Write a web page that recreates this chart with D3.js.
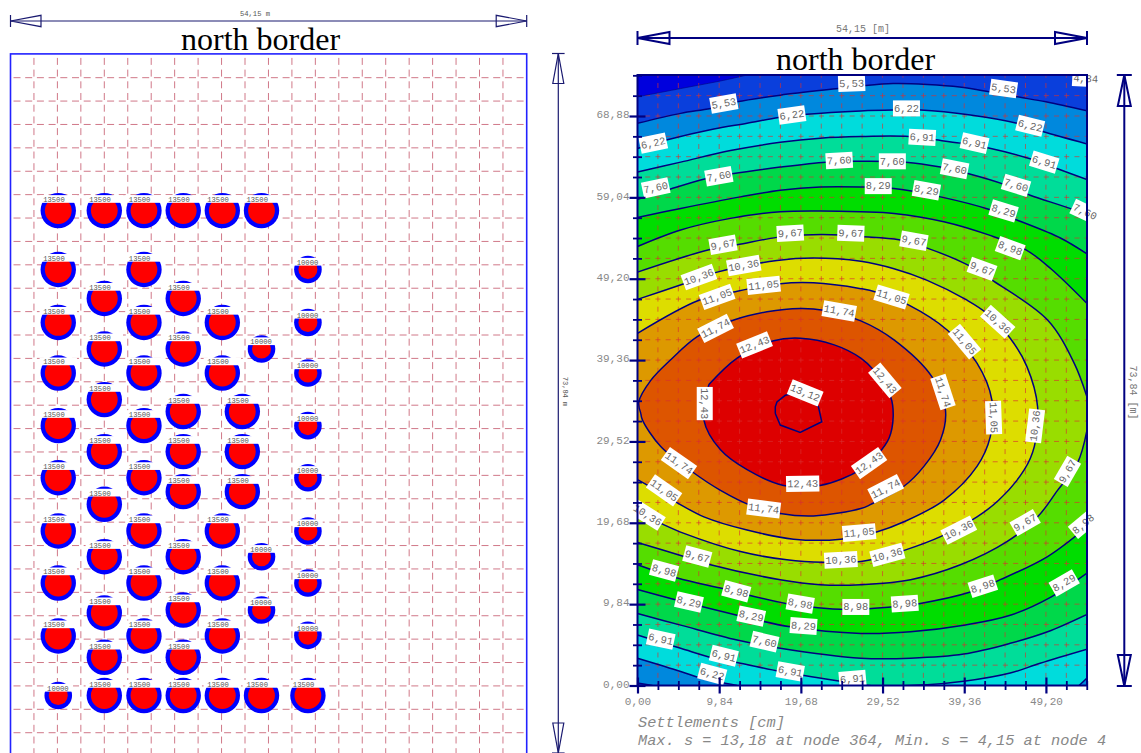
<!DOCTYPE html>
<html>
<head>
<meta charset="utf-8">
<script src="https://cdnjs.cloudflare.com/ajax/libs/d3/7.8.5/d3.min.js"></script>
<style>
  html, body { margin: 0; background: #fff; }
  svg { display: block; }
</style>
</head>
<body>
<div id="chart"></div>
<script>
// plate size in metres
const plateWidth = 54.15, plateHeight = 73.84;

// grid / tick positions [m]
const gridX = [0,2.46,4.92,7.38,9.84,12.3,14.76,17.22,19.68,22.14,24.6,27.06,29.52,31.98,34.44,36.9,39.36,41.82,44.28,46.74,49.2,51.66,54.12];
const gridY = [0,2.46,4.92,7.38,9.84,12.3,14.76,17.22,19.68,22.14,24.6,27.06,29.52,31.98,34.44,36.9,39.36,41.82,44.28,46.74,49.2,51.66,54.12,56.58,59.04,61.5,63.96,66.42,68.88,71.34,73.8];

// piles [x, y] in metres, by load
const piles13500 = [
  [5.01,57.36],[9.84,57.36],[14.0,57.36],[18.12,57.36],[22.22,57.36],[26.33,57.36],
  [5.01,51.17],[14.0,51.17],[9.84,48.12],[18.12,48.12],
  [5.01,45.6],[14.0,45.6],[22.22,45.6],[9.84,42.81],[18.12,42.81],
  [5.01,40.28],[14.0,40.28],[22.22,40.28],[9.84,37.49],[18.12,36.23],[24.32,36.23],
  [5.01,34.75],[14.0,34.75],[9.84,32.02],[18.12,32.02],[24.32,32.02],
  [5.01,29.27],[14.0,29.27],[18.12,27.81],[24.32,27.81],[9.84,26.48],
  [5.01,23.67],[14.0,23.67],[22.22,23.67],[9.84,20.97],[18.12,20.97],
  [5.01,18.2],[14.0,18.2],[22.22,18.2],[9.84,15.05],[18.12,15.36],
  [5.01,12.63],[14.0,12.63],[22.22,12.63],[9.84,10.39],[18.12,10.39],
  [9.84,6.37],[14.0,6.37],[18.12,6.37],[22.22,6.37],[26.33,6.37],[31.2,6.37]
];
const piles10000 = [
  [31.2,51.17],[31.2,45.6],[31.2,40.28],[31.2,34.75],[31.2,29.27],[31.2,23.67],[31.2,18.2],[31.2,12.7],
  [26.33,42.81],[26.33,20.97],[26.33,15.36],[5.01,6.37]
];

// settlement levels [cm] and the colour of the band above each one
const levelValues = [4.84,5.53,6.22,6.91,7.60,8.29,8.98,9.67,10.36,11.05,11.74,12.43,13.12];
const bandBelow = '#0000dd';
const bandColors = ['#0a3fdc','#0088dd','#00dcdc','#00dd99','#00d84a','#00dd00','#55dd00','#99dd00','#dddd00','#dd9900','#dd5500','#dd0000','#dd0000'];

// contour branches, left to right, [x, y] in metres
const c484 = [
  [[0,71.2],[5.2,72.2],[10.4,73.2],[13.2,73.84]],
  [[0,0]],
  [[54.15,0]],
  [[54.15,73.0],[52.4,73.84]]
];
const c553 = [
  [[0,68.0],[5.2,69.2],[8.8,69.8],[12.0,70.6],[17.2,71.4],[24.2,72.2],[26.9,72.5],[30.8,72.8],[34.9,72.7],[38.8,72.4],[42.4,71.8],[45.7,71.2],[49.2,70.6],[54.15,69.5]],
  [[0,0.3],[1.8,0]],
  [[54.15,0]]
];
const c622 = [
  [[0,64.95],[3.6,66.0],[9.2,67.3],[13.2,68.0],[17.0,68.7],[20.4,69.1],[26.9,69.5],[30.9,69.6],[34.1,69.6],[40.1,69.0],[45.7,68.0],[48.8,67.0],[54.15,65.5]],
  [[0,3.3],[5.2,1.7],[7.6,0.9],[12.0,0]],
  [[53.2,0],[54.15,0.9]]
];
const c691 = [
  [[0,62.1],[5.2,63.3],[11.2,64.7],[17.2,65.7],[22.0,66.2],[26.9,66.4],[32.7,66.4],[35.9,66.0],[38.9,65.6],[42.3,65.0],[47.3,63.7],[50.6,62.5],[54.15,61.2]],
  [[0,6.1],[5.2,4.5],[9.2,3.3],[12.4,2.7],[17.2,1.7],[24.5,0.5],[26.9,0.06],[34.9,0.1],[39.3,0.5],[44.9,1.5],[48.5,2.7],[54.15,4.4]]
];
const c760 = [
  [[0,58.8],[3.8,60.0],[8.2,61.3],[11.4,61.9],[17.2,62.7],[22.7,63.3],[25.9,63.4],[32.3,63.3],[36.5,62.7],[39.9,61.9],[43.9,60.7],[47.3,59.3],[52.6,57.5],[54.15,56.7]],
  [[0,8.7],[5.2,7.3],[12.0,5.5],[17.2,4.5],[26.9,3.3],[32.9,3.3],[39.3,3.8],[44.9,5.1],[49.4,6.5],[54.15,8.6]]
];
const c829 = [
  [[0,56.6],[5.2,57.7],[12.4,59.1],[17.2,59.9],[22.0,60.3],[26.9,60.3],[30.9,60.1],[36.5,59.1],[42.3,57.6],[45.7,56.3],[51.0,54.1],[54.15,52.2]],
  [[0,11.6],[4.8,10.3],[12.0,8.5],[18.4,7.1],[26.9,6.3],[32.9,6.5],[39.3,7.3],[44.9,8.5],[49.8,10.7],[54.15,13.6]]
];
const c898 = [
  [[0,53.1],[5.2,55.1],[11.2,56.5],[17.2,57.3],[22.0,57.4],[26.9,57.3],[30.9,57.1],[36.9,56.1],[42.3,54.5],[46.8,52.7],[49.8,50.4],[54.15,46.2]],
  [[0,14.6],[4.8,13.0],[10.4,11.7],[18.0,9.9],[25.3,9.2],[30.5,9.5],[33.9,9.9],[40.1,11.3],[43.7,12.8],[49.4,15.6],[54.15,19.2]]
];
const c967 = [
  [[0,50.0],[8.6,52.7],[12.0,53.3],[16.8,54.2],[20.0,54.5],[24.5,54.5],[26.9,54.3],[31.5,53.9],[34.9,52.9],[39.7,50.9],[42.9,48.9],[49.4,44.2],[52.6,39.0],[54.15,34.9]],
  [[0,17.3],[5.6,15.6],[8.8,14.6],[17.2,12.8],[22.0,12.2],[26.9,12.2],[32.9,12.8],[38.9,14.6],[44.5,17.4],[48.2,20.4],[50.6,23.6],[53.0,26.9],[54.15,30.9]]
];
const c1036 = [
  [[0,46.7],[5.6,48.6],[9.6,50.0],[16.8,51.4],[21.2,51.7],[26.9,51.3],[30.9,50.4],[34.9,49.0],[39.7,46.6],[42.1,45.0],[44.9,42.0],[46.9,38.6],[48.2,33.7],[47.8,28.9],[46.6,26.1],[43.5,22.4],[40.9,20.4],[36.5,18.0],[32.3,16.4],[28.1,15.2],[26.9,15.0],[22.4,14.9],[18.0,15.2],[12.4,16.2],[5.6,18.4],[2.4,19.8],[0,20.9]]
];
const c1105 = [
  [[0,42.6],[7.4,46.6],[11.6,47.6],[17.2,48.6],[21.2,48.7],[26.9,48.0],[28.7,47.6],[32.7,46.0],[37.3,43.0],[40.9,39.0],[42.7,34.5],[42.5,30.1],[40.9,26.5],[36.9,22.4],[32.1,19.8],[28.9,18.6],[26.9,18.2],[24.5,17.7],[18.8,17.7],[13.2,18.8],[8.0,20.4],[4.8,22.1],[1.6,24.0],[0,24.9]]
];
const c1174 = [
  [[0.4,32.9],[0.16,34.3],[1.6,36.9],[4.0,39.4],[7.2,42.2],[11.6,44.2],[15.6,45.2],[19.6,45.6],[22.4,45.4],[26.9,44.1],[30.9,41.8],[35.5,37.3],[37.1,33.3],[36.5,29.7],[34.5,26.5],[32.1,24.1],[28.1,21.9],[26.9,21.4],[21.2,20.5],[17.2,20.8],[13.6,21.8],[10.0,23.6],[6.8,25.7],[2.8,28.9],[0.6,32.1],[0.4,32.9]]
];
const c1243 = [
  [[8.6,36.4],[12.0,39.6],[16.4,41.7],[19.6,42.0],[23.7,41.2],[26.9,39.6],[28.5,38.1],[30.5,34.9],[30.8,32.5],[30.3,29.9],[28.9,27.9],[26.9,26.1],[22.0,24.2],[17.6,24.2],[13.2,26.1],[10.0,28.5],[8.0,32.1],[8.6,36.4]]
];
const c1312 = [
  [[16.6,32.9],[16.6,33.7],[16.8,34.3],[17.8,35.1],[19.8,35.5],[21.8,33.7],[22.2,31.9],[19.6,30.6],[17.2,31.5],[16.6,32.9]]
];
const contours = [c484,c553,c622,c691,c760,c829,c898,c967,c1036,c1105,c1174,c1243,c1312];

// contour labels: text, x, y [m], angle [deg]
const contourLabels = [
  ['4,84',54.0,73.4,3],
  ['5,53',10.4,70.4,-10],['5,53',25.8,72.8,-2],['5,53',44.1,72.2,8],
  ['6,22',1.9,65.6,-12],['6,22',18.6,69.0,-8],['6,22',32.4,69.8,0],['6,22',47.3,67.7,14],['6,22',9.0,1.4,15],
  ['6,91',34.3,66.3,3],['6,91',40.6,65.6,13],['6,91',49.0,63.3,17],['6,91',2.8,5.6,12],['6,91',10.4,3.6,14],['6,91',18.4,1.7,10],['6,91',25.9,0.8,-5],
  ['7,60',2.2,60.2,-12],['7,60',9.8,61.6,-10],['7,60',24.3,63.5,-3],['7,60',30.7,63.4,0],['7,60',38.2,62.5,11],['7,60',45.6,60.5,17],['7,60',53.9,57.3,25],['7,60',15.3,5.3,13],
  ['8,29',29.0,60.4,0],['8,29',34.8,59.9,10],['8,29',44.1,57.4,17],['8,29',6.2,10.1,13],['8,29',13.7,8.4,12],['8,29',20.0,7.2,4],['8,29',51.4,12.4,-30],
  ['8,98',44.9,52.9,20],['8,98',3.2,13.9,15],['8,98',11.9,11.4,15],['8,98',19.6,9.9,10],['8,98',26.3,9.5,0],['8,98',32.2,9.9,-4],['8,98',41.6,12.0,-18],['8,98',53.7,19.5,-40],
  ['9,67',10.3,53.3,-10],['9,67',18.4,54.7,-3],['9,67',25.7,54.7,2],['9,67',33.3,53.8,10],['9,67',41.5,50.4,20],['9,67',7.2,15.6,15],['9,67',46.7,19.7,-30],['9,67',51.8,25.9,-60],
  ['10,36',7.4,49.4,-20],['10,36',12.8,50.8,-10],['10,36',43.4,44.0,42],['10,36',47.9,31.4,-83],['10,36',38.7,18.8,-27],['10,36',30.1,15.8,-15],['10,36',24.5,15.2,-3],['10,36',1.2,20.6,32],
  ['11,05',9.6,47.0,-20],['11,05',15.2,48.4,-6],['11,05',30.6,47.0,17],['11,05',39.4,41.6,50],['11,05',42.9,32.4,88],['11,05',26.7,18.5,-5],['11,05',3.2,23.6,35],
  ['11,74',9.4,43.2,-27],['11,74',24.3,45.3,10],['11,74',36.8,35.5,72],['11,74',29.9,23.8,-27],['11,74',15.2,21.4,7],['11,74',5.0,26.9,35],
  ['12,43',14.1,41.2,-22],['12,43',8.1,34.1,90],['12,43',29.8,36.9,50],['12,43',27.9,26.9,-35],['12,43',19.9,24.4,-1],
  ['13,12',20.2,35.4,22]
];

const width = 1141, height = 753;
const mono = '"Liberation Mono", monospace';
const navy = '#000080';

let svg = d3.select('#chart').append('svg')
  .attr('width', width)
  .attr('height', height);

// helper: dimension line with a hollow arrow head and end bar at both ends
function dimArrow(g, x1, y1, x2, y2, head, half, bar, color, sw) {
  let dx = Math.sign(x2 - x1), dy = Math.sign(y2 - y1);
  g.append('line')
    .attr('x1', x1).attr('y1', y1).attr('x2', x2).attr('y2', y2)
    .attr('stroke', color).attr('stroke-width', sw);
  [[x1, y1, dx, dy], [x2, y2, -dx, -dy]].forEach(function (e) {
    let x = e[0], y = e[1], ux = e[2], uy = e[3];
    g.append('path')
      .attr('d', 'M' + x + ',' + y +
        'L' + (x + ux * head - uy * half) + ',' + (y + uy * head - ux * half) +
        'L' + (x + ux * head + uy * half) + ',' + (y + uy * head + ux * half) + 'Z')
      .attr('fill', 'none').attr('stroke', color).attr('stroke-width', sw);
    g.append('line')
      .attr('x1', x - uy * bar).attr('y1', y - ux * bar)
      .attr('x2', x + uy * bar).attr('y2', y + ux * bar)
      .attr('stroke', color).attr('stroke-width', sw);
  });
}

// ---------- left chart: pile layout ----------
let xL = d3.scaleLinear().domain([0, plateWidth]).range([10.5, 526.7]);
let yL = d3.scaleLinear().domain([0, plateHeight]).range([756.1, 53.9]);

let left = svg.append('g');

left.append('g').selectAll('line').data(gridX.slice(1, -1)).enter().append('line')
  .attr('x1', d => xL(d)).attr('x2', d => xL(d))
  .attr('y1', yL(plateHeight) + 4).attr('y2', height)
  .attr('stroke', '#d07888').attr('stroke-width', 1).attr('stroke-dasharray', '7,4.7');
left.append('g').selectAll('line').data(gridY.slice(1, -1)).enter().append('line')
  .attr('y1', d => yL(d)).attr('y2', d => yL(d))
  .attr('x1', xL(0) + 3).attr('x2', xL(plateWidth) - 1)
  .attr('stroke', '#d07888').attr('stroke-width', 1).attr('stroke-dasharray', '7,4.7');

left.append('rect')
  .attr('x', xL(0)).attr('y', yL(plateHeight))
  .attr('width', xL(plateWidth) - xL(0)).attr('height', yL(0) - yL(plateHeight))
  .attr('fill', 'none').attr('stroke', '#2222ff').attr('stroke-width', 1.6);

function drawPiles(data, load, outer, inner) {
  let g = left.append('g').selectAll('g').data(data).enter().append('g')
    .attr('transform', d => 'translate(' + xL(d[0]) + ',' + yL(d[1]) + ')');
  g.append('circle').attr('r', outer).attr('fill', '#0000ff');
  g.append('circle').attr('r', inner).attr('fill', '#ff0000');
  // white strip behind the load label cuts the top off the circle
  g.append('rect')
    .attr('x', -outer - 1).attr('y', -outer + 2.2)
    .attr('width', 2 * outer + 2).attr('height', 7.7)
    .attr('fill', '#fff');
  g.append('text')
    .attr('x', -outer + 2.6).attr('y', -outer + 9)
    .style('font-family', mono).style('font-size', '7.2px').style('fill', '#555')
    .text(load);
}
drawPiles(piles13500, '13500', 17.7, 13.4);
drawPiles(piles10000, '10000', 13.8, 9.5);

dimArrow(left, xL(0), 21, xL(plateWidth), 21, 30.5, 5.7, 6, '#1a1a70', 1.2);
dimArrow(left, 558.3, 53.5, 558.3, 753, 30, 5.5, 6.3, '#1a1a70', 1.2);

left.append('text').attr('x', 255).attr('y', 16)
  .attr('text-anchor', 'middle')
  .style('font-family', mono).style('font-size', '7.2px').style('fill', '#555')
  .text('54,15 m');
left.append('text')
  .attr('transform', 'translate(563,391.5) rotate(90)')
  .attr('text-anchor', 'middle')
  .style('font-family', mono).style('font-size', '7px').style('fill', '#555')
  .text('73,84 m');
left.append('text').attr('x', 181).attr('y', 50)
  .style('font-family', '"Liberation Serif", serif').style('font-size', '32px').style('fill', '#000')
  .text('north border');

// ---------- right chart: settlement contours ----------
let x = d3.scaleLinear().domain([0, plateWidth]).range([637.5, 1087]);
let y = d3.scaleLinear().domain([0, plateHeight]).range([685.5, 75]);

let defs = svg.append('defs');
defs.append('clipPath').attr('id', 'plot').append('rect')
  .attr('x', x(0)).attr('y', y(plateHeight))
  .attr('width', x(plateWidth) - x(0)).attr('height', y(0) - y(plateHeight));

let plot = svg.append('g').attr('clip-path', 'url(#plot)');

plot.append('rect')
  .attr('x', x(0)).attr('y', y(plateHeight))
  .attr('width', x(plateWidth) - x(0)).attr('height', y(0) - y(plateHeight))
  .attr('fill', bandBelow);

let line = d3.line().x(d => x(d[0])).y(d => y(d[1])).curve(d3.curveCatmullRom.alpha(0.5));
// the innermost contour stays a plain polygon like in the source plot
let straight = d3.line().x(d => x(d[0])).y(d => y(d[1]));

// outline of the region above a level: first branch, then the others backwards
function regionPath(branches) {
  let d = line(branches[0]);
  for (let i = branches.length - 1; i > 0; i--) {
    let b = branches[i].slice().reverse();
    d += b.length > 1 ? 'L' + line(b).slice(1) : 'L' + x(b[0][0]) + ',' + y(b[0][1]);
  }
  return d + 'Z';
}
plot.append('g').selectAll('path').data(contours).enter().append('path')
  .attr('d', d => d === c1312 ? straight(d[0]) + 'Z' : regionPath(d))
  .attr('fill', (d, i) => bandColors[i]);

// red dashed grid, a dash centred on every crossing
plot.append('g').selectAll('line').data(gridX).enter().append('line')
  .attr('x1', d => x(d)).attr('x2', d => x(d))
  .attr('y1', y(0)).attr('y2', y(plateHeight))
  .attr('stroke', '#d83030').attr('stroke-opacity', 0.65).attr('stroke-width', 1)
  .attr('stroke-dasharray', '5,5.17').attr('stroke-dashoffset', 2.5);
plot.append('g').selectAll('line').data(gridY).enter().append('line')
  .attr('y1', d => y(d)).attr('y2', d => y(d))
  .attr('x1', x(0)).attr('x2', x(plateWidth))
  .attr('stroke', '#d83030').attr('stroke-opacity', 0.65).attr('stroke-width', 1)
  .attr('stroke-dasharray', '5,5.22').attr('stroke-dashoffset', 2.5);

// contour lines
contours.forEach(function (branches, i) {
  plot.append('g').selectAll('path')
    .data(branches.filter(b => b.length > 1)).enter().append('path')
    .attr('d', branches === c1312 ? straight : line)
    .attr('fill', 'none')
    .attr('stroke', navy)
    .attr('stroke-width', i === 0 ? 0.6 : 1.5);
});

// white boxes are clipped to the plot, the label text is not
plot.append('g').selectAll('rect').data(contourLabels).enter().append('rect')
  .attr('transform', d => 'translate(' + x(d[1]) + ',' + y(d[2]) + ') rotate(' + d[3] + ')')
  .attr('x', d => -(d[0].length * 6.25 + 2) / 2).attr('y', -8)
  .attr('width', d => d[0].length * 6.25 + 2).attr('height', 16)
  .attr('fill', '#fff');

svg.append('g').selectAll('text').data(contourLabels).enter().append('text')
  .attr('transform', d => 'translate(' + x(d[1]) + ',' + y(d[2]) + ') rotate(' + d[3] + ')')
  .attr('text-anchor', 'middle')
  .attr('dy', '0.32em')
  .style('font-family', mono).style('font-size', '10.4px').style('fill', '#666')
  .text(d => d[0]);

// frame
svg.append('rect')
  .attr('x', x(0)).attr('y', y(plateHeight))
  .attr('width', x(plateWidth) - x(0)).attr('height', y(0) - y(plateHeight))
  .attr('fill', 'none').attr('stroke', navy).attr('stroke-width', 2);

// axes: every fourth grid position is a major, labelled tick
let comma = d => d3.format('.2f')(d).replace('.', ',');
let xAxis = d3.axisBottom(x).tickValues(gridX.slice(0, 23))
  .tickSize(8).tickPadding(4)
  .tickFormat((d, i) => i % 4 === 0 && i < 22 ? comma(d) : '');
let yAxis = d3.axisLeft(y).tickValues(gridY)
  .tickSize(8).tickPadding(0)
  .tickFormat((d, i) => i % 4 === 0 ? comma(d) : '');

function styleAxis(g, vertical) {
  g.select('.domain').remove();
  g.selectAll('text')
    .style('font-family', mono).style('font-size', '11px').style('fill', '#888');
  g.selectAll('line')
    .attr('stroke', navy)
    .each(function (d, i) {
      let major = i % 4 === 0;
      let s = major ? 8 : 4.5;
      d3.select(this)
        .attr('stroke-width', major ? 2.2 : 1.8)
        .attr(vertical ? 'x1' : 'y1', vertical ? s : -s)
        .attr(vertical ? 'x2' : 'y2', vertical ? -s : s);
    });
}
svg.append('g').attr('transform', 'translate(0,' + y(0) + ')').call(xAxis).call(styleAxis, false);
svg.append('g').attr('transform', 'translate(' + x(0) + ',0)').call(yAxis).call(styleAxis, true)
  .selectAll('text').attr('dy', '0.15em');

dimArrow(svg, x(0), 38, x(plateWidth), 38, 32, 6, 7, navy, 2);
dimArrow(svg, 1124.3, 75, 1124.3, 686, 31, 6.5, 7.5, navy, 2);

svg.append('text').attr('x', 863).attr('y', 32)
  .attr('text-anchor', 'middle')
  .style('font-family', mono).style('font-size', '10px').style('fill', '#777')
  .text('54,15 [m]');
svg.append('text')
  .attr('transform', 'translate(1129.5,392.5) rotate(90)')
  .attr('text-anchor', 'middle')
  .style('font-family', mono).style('font-size', '10px').style('fill', '#777')
  .text('73,84 [m]');
svg.append('text').attr('x', 776).attr('y', 69.5)
  .style('font-family', '"Liberation Serif", serif').style('font-size', '32px').style('fill', '#000')
  .text('north border');

svg.append('text').attr('x', 638).attr('y', 726.5)
  .style('font-family', mono).style('font-style', 'italic').style('font-size', '15.3px').style('fill', '#888')
  .text('Settlements [cm]');
svg.append('text').attr('x', 638).attr('y', 744.5)
  .style('font-family', mono).style('font-style', 'italic').style('font-size', '15.3px').style('fill', '#888')
  .text('Max. s = 13,18 at node 364, Min. s = 4,15 at node 4');
</script>
</body>
</html>
